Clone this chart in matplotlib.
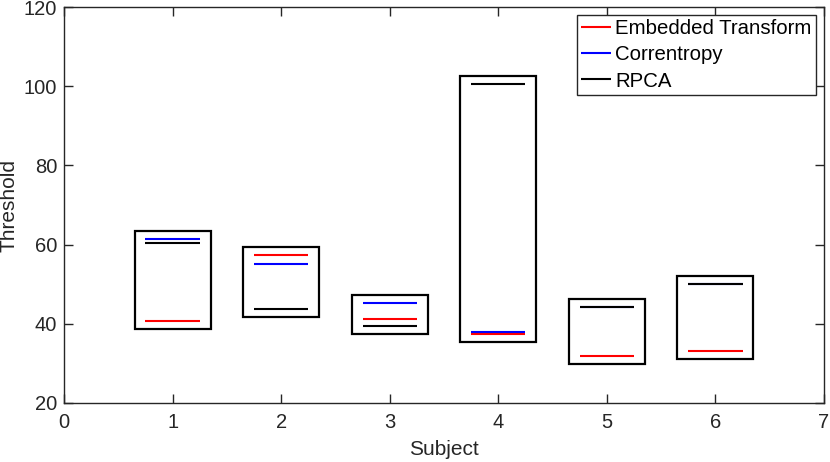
import matplotlib

matplotlib.use("Agg")
import matplotlib.pyplot as plt
from matplotlib.patches import Rectangle

plt.rcParams["font.family"] = ["Liberation Sans", "DejaVu Sans"]

subjects = [1, 2, 3, 4, 5, 6]
embedded = [40.8, 57.5, 41.1, 37.5, 31.9, 33.2]
correntropy = [61.5, 55.1, 45.3, 37.9, 44.3, 50.1]
rpca = [60.3, 43.8, 39.4, 100.6, 44.2, 50.0]

methods = ["Embedded Transform", "Correntropy", "RPCA"]
method_colors = ["red", "blue", "black"]

box_half = 0.35
line_half = 0.25
box_pad = 2.0

dark = "#262626"

fig = plt.figure(figsize=(8.3, 4.62), dpi=100)
ax = fig.add_axes([64 / 830, 1 - 403 / 462, (824 - 64) / 830, (403 - 7) / 462])

series = [embedded, correntropy, rpca]

for k, s in enumerate(subjects):
    vals = [embedded[k], correntropy[k], rpca[k]]
    lo = min(vals) - box_pad
    hi = max(vals) + box_pad
    ax.add_patch(
        Rectangle(
            (s - box_half, lo),
            2 * box_half,
            hi - lo,
            fill=False,
            edgecolor="black",
            linewidth=1.6,
            zorder=2,
        )
    )

for name, color, vals in zip(methods, method_colors, series):
    ax.hlines(
        vals,
        [s - line_half for s in subjects],
        [s + line_half for s in subjects],
        colors=color,
        linewidth=1.5,
        label=name,
        zorder=3,
    )

ax.set_xlim(0, 7)
ax.set_ylim(20, 120)
ax.set_xticks(range(0, 8))
ax.set_yticks(range(20, 121, 20))

for sp in ax.spines.values():
    sp.set_color(dark)
    sp.set_linewidth(1.0)

ax.tick_params(
    direction="in",
    length=6.5,
    width=1.0,
    color=dark,
    labelcolor=dark,
    labelsize=14.5,
    top=True,
    right=True,
)
ax.tick_params(axis="x", pad=7)
ax.tick_params(axis="y", pad=5)

ax.set_xlabel("Subject", fontsize=15, color=dark, labelpad=6)
ax.set_ylabel("Threshold", fontsize=15, color=dark, labelpad=4)

leg = ax.legend(
    loc="upper right",
    fontsize=14.7,
    frameon=True,
    fancybox=False,
    edgecolor=dark,
    framealpha=1,
    borderaxespad=0.4,
    borderpad=0.2,
    handlelength=1.5,
    handletextpad=0.2,
    labelspacing=0.35,
)
leg.get_frame().set_linewidth(1.0)

fig.savefig("out.png", dpi=100)
